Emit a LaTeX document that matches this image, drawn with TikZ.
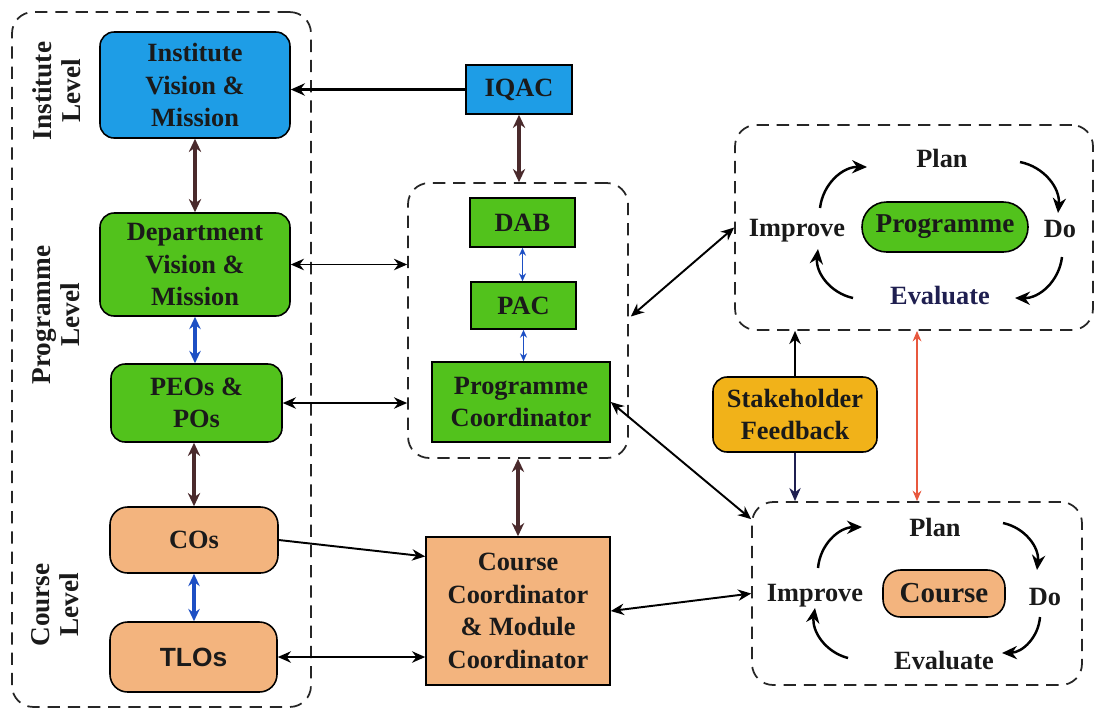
\documentclass[tikz,border=0pt]{standalone}
\usepackage{fontspec}
\setmainfont{Liberation Serif}
\newfontfamily\headsans{Liberation Sans}
\usetikzlibrary{arrows.meta,calc}

\definecolor{instblue}{HTML}{1E9DE6}
\definecolor{progreen}{HTML}{52C21C}
\definecolor{peach}{HTML}{F3B47E}
\definecolor{gold}{HTML}{F1B219}
\definecolor{linkbrown}{HTML}{4A2A2C}
\definecolor{linkblue}{HTML}{1D4FC4}
\definecolor{linkred}{HTML}{E8583E}
\definecolor{ink}{HTML}{1A1A1A}
\definecolor{navy}{HTML}{1F1F50}

\begin{document}
\begin{tikzpicture}[x=0.02cm,y=-0.02cm,
  every node/.style={font=\fontsize{15}{18.5}\selectfont\bfseries, text=ink,
    align=center, inner sep=0pt},
  rbox/.style={draw=black, line width=0.9pt, rounded corners=8pt},
  pill/.style={draw=black, line width=0.9pt, rounded corners=10pt},
  sbox/.style={draw=black, line width=0.9pt},
  group/.style={draw=black!85, dash pattern=on 7pt off 4.5pt, line width=1pt,
    rounded corners=12pt},
  lvl/.style={rotate=90, font=\fontsize{15.5}{16.5}\selectfont\bfseries},
  tip/.style={Stealth[length=7.5pt,width=6.5pt]},
  smalltip/.style={Stealth[length=4.5pt,width=4pt]},
  link/.style={line width=1.1pt, draw=black, {Stealth[length=7.5pt,width=6.5pt]}-{Stealth[length=7.5pt,width=6.5pt]}},
  onelink/.style={line width=1.1pt, draw=black, -{Stealth[length=7.5pt,width=6.5pt]}},
  brownlink/.style={line width=1.8pt, draw=linkbrown, {Stealth[length=7.5pt,width=7pt]}-{Stealth[length=7.5pt,width=7pt]}},
  bluelink/.style={line width=1.8pt, draw=linkblue, {Stealth[length=7pt,width=6.5pt]}-{Stealth[length=7pt,width=6.5pt]}},
  thinblue/.style={line width=1pt, draw=linkblue, {Stealth[length=4.5pt,width=4pt]}-{Stealth[length=4.5pt,width=4pt]}},
  redlink/.style={line width=0.8pt, draw=linkred, {Stealth[length=6pt,width=5pt]}-{Stealth[length=6pt,width=5pt]}},
  cyc/.style={line width=1.4pt, draw=black, -{Stealth[length=8.5pt,width=7.5pt]}, bend left=42}
]
\useasboundingbox (0,0) rectangle (1097,711);

% ---------- grouping frames ----------
\node[group, minimum width=5.98cm, minimum height=13.9cm] (left) at (161.5,359.5) {};
\node[group, minimum width=4.4cm, minimum height=5.5cm] (mid) at (518,320.5) {};
\node[group, minimum width=7.16cm, minimum height=4.1cm] (rtop) at (914,227.5) {};
\node[group, minimum width=6.6cm, minimum height=3.66cm] (rbot) at (917,593.5) {};

% ---------- level labels ----------
\node[lvl] (lvinst) at (57,91) {Institute\\Level};
\node[lvl] (lvprog) at (56,315) {Programme\\Level};
\node[lvl] (lvcour) at (55,605) {Course\\Level};

% ---------- left column ----------
\node[rbox, fill=instblue, minimum width=3.8cm, minimum height=2.12cm] (ivm) at (195,85) {Institute\\Vision \&\\Mission};
\node[rbox, fill=progreen, minimum width=3.8cm, minimum height=2.06cm] (dvm) at (195,264.5) {Department\\Vision \&\\Mission};
\node[rbox, fill=progreen, minimum width=3.42cm, minimum height=1.56cm] (peo) at (196.5,403) {PEOs \&\\POs};
\node[pill, fill=peach, rounded corners=10pt, minimum width=3.36cm, minimum height=1.32cm] (cos) at (194,540) {COs};
\node[pill, fill=peach, rounded corners=10pt, minimum width=3.34cm, minimum height=1.4cm,
  font=\headsans\fontsize{15}{18}\selectfont\bfseries] (tlos) at (193.5,657) {TLOs};

% ---------- middle column ----------
\node[sbox, fill=instblue, minimum width=2.12cm, minimum height=0.98cm] (iqac) at (519,89.5) {IQAC};
\node[sbox, fill=progreen, minimum width=2.1cm, minimum height=0.98cm] (dab) at (522.5,222.5) {DAB};
\node[sbox, fill=progreen, minimum width=2.1cm, minimum height=0.94cm] (pac) at (523.5,305.5) {PAC};
\node[sbox, fill=progreen, minimum width=3.56cm, minimum height=1.6cm] (pc) at (521,402) {Programme\\Coordinator};
\node[sbox, fill=peach, minimum width=3.68cm, minimum height=2.96cm] (ccmc) at (518,611) {Course\\Coordinator\\\& Module\\Coordinator};

% ---------- stakeholder feedback ----------
\node[rbox, fill=gold, minimum width=3.28cm, minimum height=1.5cm] (sf) at (795,414.5) {Stakeholder\\Feedback};

% ---------- programme cycle ----------
\node[draw=black, line width=0.9pt, fill=progreen, rounded corners=14pt,
  minimum width=3.32cm, minimum height=1.0cm, font=\fontsize{15.5}{18}\selectfont\bfseries] (ppill) at (945,227) {Programme};
\node (plan1) at (942,158) {Plan};
\node (imp1) at (797,231) {Improve};
\node (do1) at (1060,229) {Do};
\node[text=navy] (eval1) at (940,296) {Evaluate};

\coordinate (c1a) at (820,208); \coordinate (c1b) at (867,167);
\coordinate (c2a) at (1020,162); \coordinate (c2b) at (1058,213);
\coordinate (c3a) at (1062,257); \coordinate (c3b) at (1015,298);
\coordinate (c4a) at (853,298); \coordinate (c4b) at (818,249);
\draw[cyc] (c1a) to (c1b);
\draw[cyc] (c2a) to (c2b);
\draw[cyc] (c3a) to (c3b);
\draw[cyc] (c4a) to (c4b);

% ---------- course cycle ----------
\node[pill, fill=peach, minimum width=2.44cm, minimum height=0.94cm,
  font=\fontsize{16.5}{18}\selectfont\bfseries] (cpill) at (944,593.5) {Course};
\node (plan2) at (935,527) {Plan};
\node (imp2) at (815,596) {Improve};
\node (do2) at (1045,597) {Do};
\node (eval2) at (944,660) {Evaluate};

\coordinate (d1a) at (818,568); \coordinate (d1b) at (862,527);
\coordinate (d2a) at (1003,523); \coordinate (d2b) at (1037,570);
\coordinate (d3a) at (1040,617); \coordinate (d3b) at (1002,653);
\coordinate (d4a) at (848,658); \coordinate (d4b) at (815,608);
\draw[cyc] (d1a) to (d1b);
\draw[cyc] (d2a) to (d2b);
\draw[cyc] (d3a) to (d3b);
\draw[cyc] (d4a) to (d4b);

% ---------- vertical links ----------
\draw[brownlink] (ivm.south) -- (ivm.south |- dvm.north);
\draw[bluelink] (dvm.south) -- (dvm.south |- peo.north);
\draw[brownlink] (peo.south -| cos.north) -- (cos.north);
\draw[bluelink] (cos.south) -- (cos.south |- tlos.north);
\draw[brownlink] (iqac.south) -- (iqac.south |- mid.north);
\draw[thinblue] (dab.south) -- (dab.south |- pac.north);
\draw[thinblue] (pac.south) -- (pac.south |- pc.north);
\draw[brownlink] (mid.south) -- (mid.south |- ccmc.north);

% ---------- horizontal and diagonal links ----------
\draw[line width=1.4pt, -{Stealth[length=8pt,width=7pt]}] (iqac.west) -- (iqac.west -| ivm.east);
\draw[link] (dvm.east) -- (dvm.east -| mid.west);
\draw[link] (peo.east) -- (peo.east -| mid.west);
\draw[onelink] (cos.east) -- ($(ccmc.north west)!0.135!(ccmc.south west)$);
\draw[link] (tlos.east) -- (tlos.east -| ccmc.west);
\draw[link] ($(mid.east)+(2,-4)$) -- (rtop.west);
\draw[link] (pc.east) -- ([yshift=-0.36cm]rbot.north west);
\draw[link] (ccmc.east) -- (rbot.west);

% ---------- feedback links ----------
\draw[onelink] (sf.north) -- (sf.north |- rtop.south);
\draw[line width=0.8pt, draw=navy, -{Stealth[length=7.5pt,width=6.5pt]}] (sf.south) -- (sf.south |- rbot.north);
\draw[redlink] (rbot.north |- rtop.south) -- (rbot.north);

\end{tikzpicture}
\end{document}
